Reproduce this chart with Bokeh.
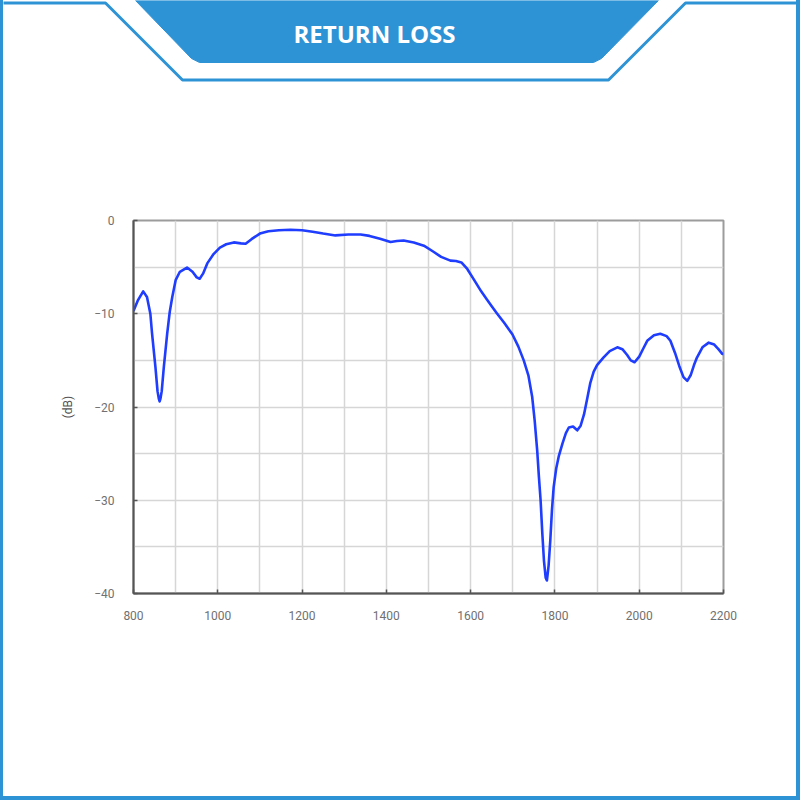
from bokeh.plotting import figure
from bokeh.layouts import column, row
from bokeh.models import Range1d, SingleIntervalTicker, Label, Div
from bokeh.embed import file_html
from bokeh.resources import INLINE

# Return loss sweep: frequency (MHz) and reflection (dB)
freq_mhz = [800, 810, 823, 832, 840, 844, 852, 857, 860, 862, 864, 867, 872, 880,
            886, 892, 900, 910, 927, 940, 950, 957, 965, 975, 990, 1005, 1020,
            1038, 1055, 1066, 1080, 1100, 1120, 1145, 1172, 1200, 1225, 1250,
            1279, 1310, 1339, 1360, 1385, 1410, 1425, 1441, 1465, 1489, 1510,
            1530, 1552, 1565, 1578, 1592, 1610, 1625, 1639, 1650, 1663, 1680,
            1699, 1713, 1726, 1737, 1746, 1752, 1758, 1762, 1766, 1770, 1774,
            1778, 1781, 1785, 1789, 1793, 1797, 1803, 1809, 1818, 1826, 1833,
            1843, 1853, 1861, 1869, 1877, 1884, 1892, 1900, 1915, 1930, 1948,
            1960, 1971, 1980, 1989, 2000, 2010, 2019, 2035, 2050, 2065, 2074,
            2085, 2095, 2105, 2114, 2122, 2130, 2137, 2150, 2165, 2178, 2188,
            2197, 2200]
return_loss_db = [-9.7, -8.6, -7.6, -8.2, -10.0, -12.1, -15.7, -18.3, -19.1, -19.4,
                  -19.1, -18.3, -15.7, -12.1, -9.8, -8.2, -6.4, -5.5, -5.05, -5.5,
                  -6.1, -6.25, -5.7, -4.6, -3.6, -2.9, -2.55, -2.35, -2.45, -2.5,
                  -2.0, -1.4, -1.15, -1.05, -1.0, -1.05, -1.2, -1.4, -1.6, -1.5,
                  -1.5, -1.65, -1.95, -2.3, -2.2, -2.15, -2.35, -2.7, -3.3, -3.9,
                  -4.3, -4.35, -4.5, -5.2, -6.5, -7.6, -8.5, -9.2, -10.0, -11.0,
                  -12.2, -13.5, -15.0, -16.6, -18.9, -21.5, -24.7, -27.5, -30.0,
                  -33.5, -36.5, -38.3, -38.6, -37.0, -34.3, -31.0, -28.6, -26.6,
                  -25.3, -23.9, -22.8, -22.2, -22.1, -22.5, -22.0, -20.8, -19.0,
                  -17.4, -16.2, -15.5, -14.7, -14.0, -13.6, -13.8, -14.4, -15.0,
                  -15.2, -14.6, -13.7, -12.9, -12.3, -12.15, -12.4, -12.9, -14.2,
                  -15.6, -16.8, -17.2, -16.6, -15.5, -14.7, -13.6, -13.1, -13.3,
                  -13.8, -14.3, -14.3]

title_text = "RETURN LOSS"
y_label = "(dB)"

BLUE = "#2e93d5"
HEADER_H = 100
SIDE_L, SIDE_R, BOTTOM_H = 3, 4, 4
INNER_W = 800 - SIDE_L - SIDE_R


def edge(width, height):
    return Div(text="", width=width, height=height, margin=0,
               styles={"background-color": BLUE})


# ---- header band with the notched top edge and the title tab ----
# x range is in page pixels, offset by the left edge strip
header = figure(width=INNER_W, height=HEADER_H, min_border=0,
                output_backend="svg", toolbar_location=None,
                x_axis_location=None, y_axis_location=None,
                x_range=Range1d(SIDE_L, 800 - SIDE_R),
                y_range=Range1d(HEADER_H, 0),
                background_fill_color="white", border_fill_color="white")
header.grid.visible = False
header.outline_line_color = None
header.line([0, 105, 182, 608, 685, 800], [2.5, 2.5, 79.5, 79.5, 2.5, 2.5],
            line_color=BLUE, line_width=3, line_join="round")
header.patch([135, 658, 601, 593, 199, 191], [0, 0, 58, 62, 62, 58],
             fill_color=BLUE, line_color=BLUE, line_width=1, line_join="round")
header.add_layout(Label(x=374, y=33, text=title_text, text_align="center",
                        text_baseline="middle", text_font="Open Sans",
                        text_font_style="bold", text_font_size="24px",
                        text_color="white"))

# ---- return loss chart ----
body_h = 800 - HEADER_H - BOTTOM_H
p = figure(frame_width=590, frame_height=373,
           min_border_left=133 - SIDE_L, min_border_right=800 - SIDE_R - 723,
           min_border_top=220 - HEADER_H, min_border_bottom=body_h - (593 - HEADER_H),
           x_range=Range1d(800, 2200), y_range=Range1d(-40, 0),
           output_backend="svg", toolbar_location=None,
           background_fill_color="white", border_fill_color="white")

# grid every 100 MHz / 5 dB, labels every 200 MHz / 10 dB
p.xaxis.ticker = SingleIntervalTicker(interval=200)
p.yaxis.ticker = SingleIntervalTicker(interval=10)
p.xgrid.ticker = SingleIntervalTicker(interval=100)
p.ygrid.ticker = SingleIntervalTicker(interval=5)
for g in (p.xgrid, p.ygrid):
    g.grid_line_color = "#d6d6d6"
    g.grid_line_width = 1.5

p.outline_line_color = "#9c9c9c"
p.outline_line_width = 2

for ax in (p.xaxis, p.yaxis):
    ax.axis_line_color = "#555555"
    ax.axis_line_width = 2
    ax.major_tick_in = 4
    ax.major_tick_out = 0
    ax.major_tick_line_color = "#555555"
    ax.major_tick_line_width = 1.5
    ax.minor_tick_line_color = None
    ax.major_label_text_font = "Roboto"
    ax.major_label_text_font_size = "12px"
    ax.major_label_text_color = "#707070"

p.xaxis.major_label_standoff = 13
p.yaxis.major_label_standoff = 15
p.yaxis.axis_label = y_label
p.yaxis.axis_label_text_font = "Roboto"
p.yaxis.axis_label_text_font_size = "12px"
p.yaxis.axis_label_text_font_style = "normal"
p.yaxis.axis_label_text_color = "#555555"
p.yaxis.axis_label_standoff = 16

p.line(freq_mhz, return_loss_db, line_color="#1f3dff", line_width=2.6,
       line_join="round")

# ---- page assembly with blue edges ----
page = column(
    row(edge(SIDE_L, HEADER_H), header, edge(SIDE_R, HEADER_H), spacing=0),
    row(edge(SIDE_L, body_h), p, edge(SIDE_R, body_h), spacing=0),
    edge(800, BOTTOM_H),
    spacing=0)

open("out.html", "w").write(file_html(page, INLINE))
